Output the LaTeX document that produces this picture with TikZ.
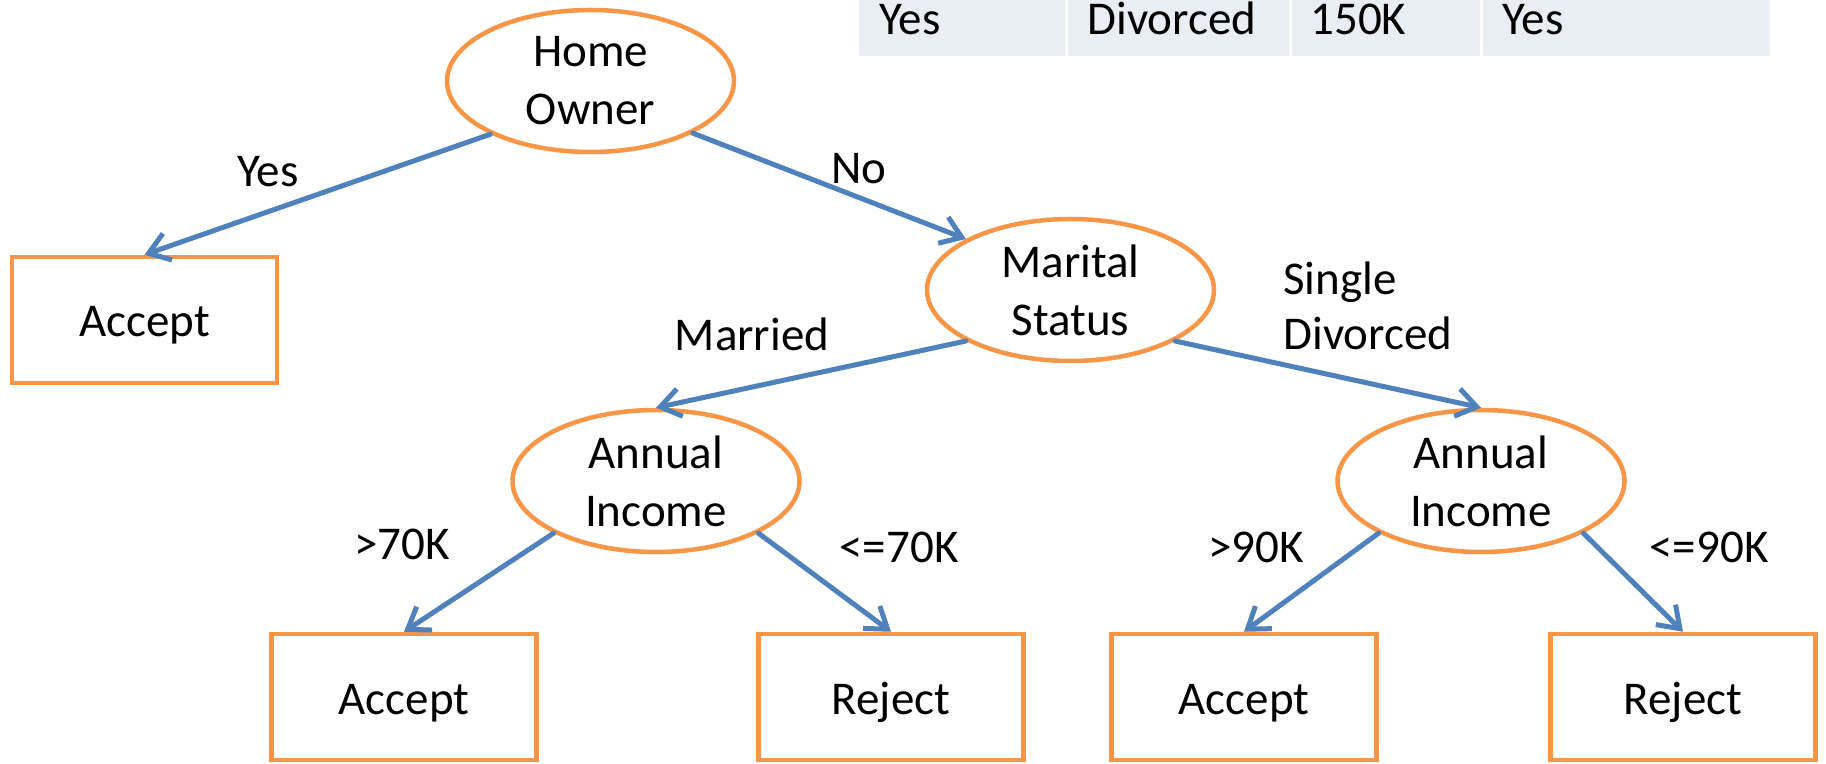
\documentclass[tikz,border=0pt]{standalone}
\usepackage{fontspec}
\setmainfont{Carlito}
\usetikzlibrary{arrows.meta, shapes.geometric}
\usepackage{xcolor}
\definecolor{laranja}{RGB}{247, 150, 70}
\definecolor{azul}{RGB}{79, 129, 189}
\definecolor{celula}{RGB}{233, 237, 244}
\tikzset{
  texto/.style={font=\fontsize{23.5}{29}\selectfont},
  teste/.style={
    ellipse, draw=laranja, line width=2.25pt, fill=white, texto,
    align=center, inner sep=0pt, minimum width=143.5pt, minimum height=71pt
  },
  folha/.style={
    rectangle, draw=laranja, line width=2.25pt, fill=white, texto,
    inner sep=0pt, minimum width=132.5pt, minimum height=63pt,
    text height=17pt, text depth=0pt
  },
  celtexto/.style={texto, inner sep=0pt, anchor=base west},
}

\begin{document}
\begin{tikzpicture}[
    x=0.5pt, y=-0.5pt,
    seta/.style={
        -{Straight Barb[length=10pt, width=14pt]},
        line width=2.5pt,
        azul,
        line cap=round
    },
    rotulo/.style={
        texto
    }
]
\useasboundingbox (0,0) rectangle (1826,764);
\clip (0,0) rectangle (1826,764);

% linha da tabela
\fill[celula] (859,-20) rectangle (1065,56);
\fill[celula] (1068,-20) rectangle (1289,56);
\fill[celula] (1292,-20) rectangle (1480,56);
\fill[celula] (1483,-20) rectangle (1770,56);
\node[celtexto] (t1) at (879,35) {Yes};
\node[celtexto] (t2) at (1087,35) {Divorced};
\node[celtexto] (t3) at (1310,35) {150K};
\node[celtexto] (t4) at (1502,35) {Yes};

% arvore
\node[teste] (home) at (590.5,81) {Home\\Owner};
\node[folha] (aceita0) at (144.5,320) {Accept};
\node[teste] (marital) at (1070.5,290) {Marital\\Status};
\node[teste] (rendaE) at (656,481) {Annual\\Income};
\node[teste] (rendaD) at (1481,481) {Annual\\Income};
\node[folha] (aceita1) at (404,697) {Accept};
\node[folha] (rejeita1) at (891,697) {Reject};
\node[folha] (aceita2) at (1244,697) {Accept};
\node[folha] (rejeita2) at (1683,697) {Reject};

\draw[seta] (home.-152) -- (aceita0.north);
\draw[seta] (home.-27) -- (marital.154);
\draw[seta] (marital.-154) -- (rendaE.north);
\draw[seta] (marital.-26) -- (rendaD.north);
\draw[seta] (rendaE.-153) -- (aceita1.north);
\draw[seta] (rendaE.-27) -- (rejeita1.north);
\draw[seta] (rendaD.-153) -- (aceita2.north);
\draw[seta] (rendaD.-27) -- (rejeita2.north);

% rotulos
\node[rotulo] (lsim) at (268,172) {Yes};
\node[rotulo] (lnao) at (859,169) {No};
\node[rotulo] (lcasado) at (752,334) {Married};
\node[rotulo, font=\fontsize{23.5}{27.5}\selectfont, align=left, anchor=west, inner sep=0pt]
  (lsolteiro) at (1283,306) {Single\\Divorced};
\node[rotulo] (lmaior70) at (402,544) {>70K};
\node[rotulo] (lmenor70) at (899,547) {<=70K};
\node[rotulo] (lmaior90) at (1256,547) {>90K};
\node[rotulo] (lmenor90) at (1709,547) {<=90K};

\end{tikzpicture}
\end{document}
